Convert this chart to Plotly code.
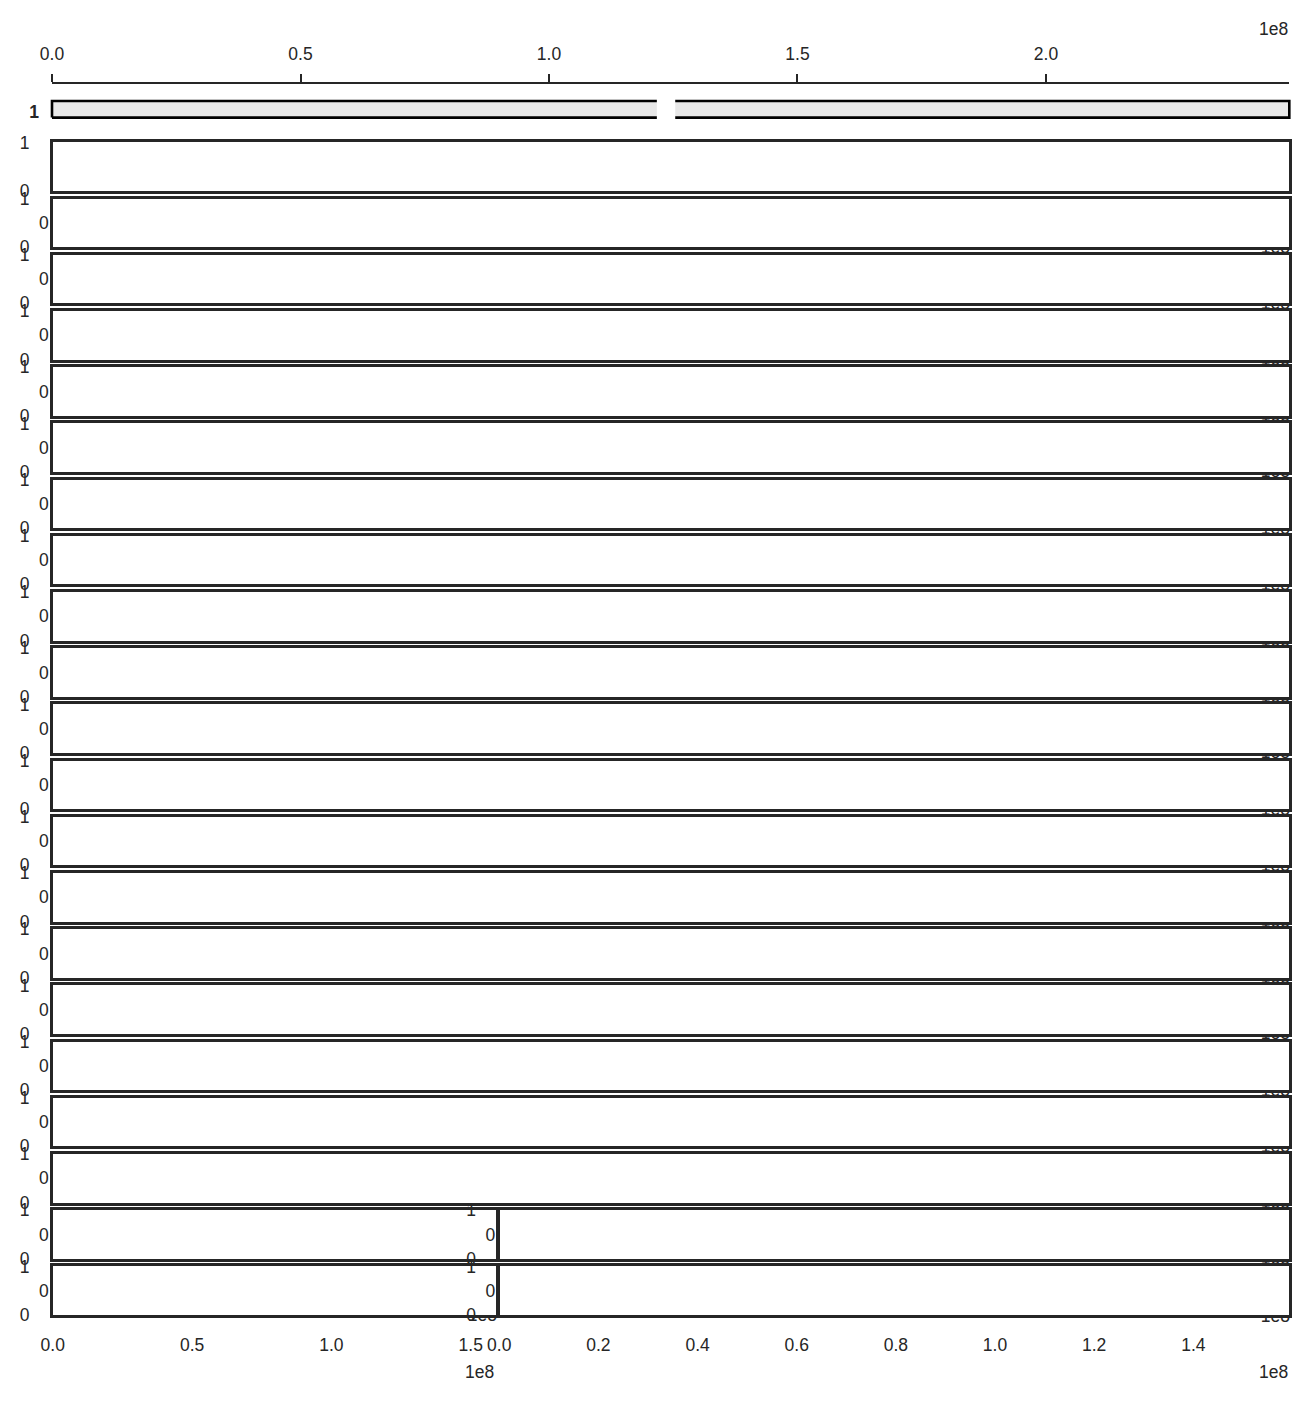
import plotly.graph_objects as go

W, H = 1311, 1401
FONT = "Liberation Sans, Arial, Helvetica, sans-serif"
INK = "#262626"
FS = 17.5

# ---------------- data ----------------
chrom_names = ["1"]
chrom_lengths = [248956422]
centromere_starts = [121700000]
centromere_ends = [125400000]
track_count = 21
split_rows = [19, 20]                       # rows holding two chromosome panels
split_chrom_lengths = [159345973, 159345973]
track_tick_vals = [0, 1]
track_tick_text = ["0", "1"]
mid_tick_vals = [0]
mid_tick_text = ["0"]
top_tick_vals = [0.0e8, 0.5e8, 1.0e8, 1.5e8, 2.0e8]
top_tick_text = ["0.0", "0.5", "1.0", "1.5", "2.0"]
bl_tick_vals = [0.0e8, 0.5e8, 1.0e8, 1.5e8]
bl_tick_text = ["0.0", "0.5", "1.0", "1.5"]
br_tick_vals = [0.0e8, 0.2e8, 0.4e8, 0.6e8, 0.8e8, 1.0e8, 1.2e8, 1.4e8]
br_tick_text = ["0.0", "0.2", "0.4", "0.6", "0.8", "1.0", "1.2", "1.4"]
offset_text = "1e8"

# ---------------- geometry (pixels) ----------------
LEFT, RIGHT, SPLIT = 51.5, 1290.5, 498.0
ROW_TOP0, ROW_PITCH, ROW_H = 141.2, 56.2, 51.0
LW = 2.5
IDEO_X0, IDEO_X1 = 52.0, 1289.3
IDEO_CY, IDEO_HALF = 109.3, 8.3
BAND = 0.5

layout = dict(
    width=W, height=H,
    margin=dict(l=0, r=0, t=0, b=0, pad=0, autoexpand=False),
    paper_bgcolor="white", plot_bgcolor="rgba(0,0,0,0)",
    showlegend=False, hovermode=False,
    font=dict(family=FONT, size=FS, color=INK),
)
traces = []
counters = {"x": 0, "y": 0}


def key_of(ref):
    return ref[0] + "axis" + ref[1:]


def add_axis(kind, **kw):
    counters[kind] += 1
    n = counters[kind]
    ref = kind + ("" if n == 1 else str(n))
    base = dict(showgrid=False, zeroline=False, fixedrange=True, automargin=False)
    base.update(kw)
    layout[key_of(ref)] = base
    return ref


def xdom(a, b):
    return [a / W, b / W]


def ydom(top, bottom):
    return [1 - bottom / H, 1 - top / H]


def add_pair(xd, yd, xkw, ykw):
    xr = add_axis("x", domain=xd, **xkw)
    yr = add_axis("y", domain=yd, **ykw)
    layout[key_of(xr)]["anchor"] = yr
    layout[key_of(yr)]["anchor"] = xr
    return xr, yr


def empty(xr, yr):
    traces.append(go.Scatter(x=[], y=[], xaxis=xr, yaxis=yr, mode="markers",
                             hoverinfo="skip", showlegend=False))


L = chrom_lengths[0]

# ---- top position axis ----
xr, yr = add_pair(
    xdom(IDEO_X0, IDEO_X1), ydom(83.8, 96),
    dict(range=[0, L], side="top", showline=True, linecolor=INK, linewidth=1.6,
         ticks="outside", ticklen=8, tickwidth=1.6, tickcolor=INK,
         tickvals=top_tick_vals, ticktext=top_tick_text, ticklabelstandoff=7,
         tickfont=dict(size=FS, color=INK)),
    dict(range=[0, 1], visible=False),
)
empty(xr, yr)

# ---- ideogram ----
per_px = L / (IDEO_X1 - IDEO_X0)
ix_a, ix_b = 40.0, 1302.0
iy_top, iy_bot = 96.0, 125.0
unit_px = IDEO_HALF / BAND
xr, yr = add_pair(
    xdom(ix_a, ix_b), ydom(iy_top, iy_bot),
    dict(range=[(ix_a - IDEO_X0) * per_px, L + (ix_b - IDEO_X1) * per_px],
         visible=False),
    dict(range=[-(iy_bot - IDEO_CY) / unit_px, (IDEO_CY - iy_top) / unit_px],
         tickvals=[0], ticktext=["<b>%s</b>" % chrom_names[0]], ticks="",
         showline=False, ticklabelstandoff=0, ticklabelshift=3,
         tickfont=dict(size=FS, color=INK)),
)
for name, length, cs, ce in zip(chrom_names, chrom_lengths, centromere_starts, centromere_ends):
    traces.append(go.Scatter(
        x=[0, length, length, 0, 0], y=[-BAND, -BAND, BAND, BAND, -BAND],
        xaxis=xr, yaxis=yr, mode="lines", fill="toself", fillcolor="#e8e8e8",
        line=dict(color="black", width=2.6), hoverinfo="skip", showlegend=False))
    traces.append(go.Scatter(
        x=[cs, ce, ce, cs, cs], y=[-1.5 * BAND, -1.5 * BAND, 1.5 * BAND, 1.5 * BAND, -1.5 * BAND],
        xaxis=xr, yaxis=yr, mode="lines", fill="toself", fillcolor="white",
        line=dict(color="white", width=0), hoverinfo="skip", showlegend=False))

# ---- track panels ----
frag_specs = []   # (x_left, x_right, win_top, win_bottom, text_right, text_baseline)
for r in range(track_count):
    top = ROW_TOP0 + r * ROW_PITCH
    bot = top + ROW_H
    yd = ydom(top + LW / 2, bot - LW / 2)
    if r in split_rows:
        segs = [(LEFT, SPLIT, split_chrom_lengths[0], bl_tick_vals, bl_tick_text),
                (SPLIT, RIGHT, split_chrom_lengths[1], br_tick_vals, br_tick_text)]
    else:
        segs = [(LEFT, RIGHT, L, [], [])]
    is_bottom = r == track_count - 1
    for a, b, length, tv, tt in segs:
        xkw = dict(range=[0, length], showline=True, mirror=True, linecolor=INK,
                   linewidth=LW, ticks="", showticklabels=is_bottom)
        if is_bottom:
            xkw.update(tickvals=tv, ticktext=tt, ticklabelstandoff=12,
                       tickfont=dict(size=FS, color=INK))
        ykw = dict(range=[0, 1], showline=True, mirror=True, linecolor=INK,
                   linewidth=LW, ticks="", tickvals=track_tick_vals,
                   ticktext=track_tick_text, ticklabelstandoff=17,
                   tickfont=dict(size=FS, color=INK))
        xr, yr = add_pair(xdom(a + LW / 2, b - LW / 2), yd, xkw, ykw)
        empty(xr, yr)
        if r > 0:
            yr2 = add_axis("y", overlaying=yr, anchor=xr, side="left",
                           range=[-1, 1], tickvals=mid_tick_vals,
                           ticktext=mid_tick_text, showline=False, ticks="",
                           ticklabelstandoff=3, tickfont=dict(size=FS, color=INK))
            empty(xr, yr2)
    if r > 0:
        if r < track_count - 1:
            nxt = bot + (ROW_PITCH - ROW_H)
            frag_specs.append((1240.0, 1292.0, bot + LW / 2, nxt - LW / 2, 1290.0, nxt - 1.0))
        else:
            frag_specs.append((1240.0, 1292.0, bot + LW / 2, bot + 7.0, 1290.0, bot + 5.5))
last_bot = ROW_TOP0 + (track_count - 1) * ROW_PITCH + ROW_H
frag_specs.append((440.0, 497.0, last_bot + LW / 2, last_bot + 7.0, 497.0, last_bot + 4.5))

# ---- partially hidden offset labels (only their lower edge peeks out) ----
for xa, xb, wt, wb, xright, gbase in frag_specs:
    xr, yr = add_pair(xdom(xa, xb), ydom(wt, wb),
                      dict(range=[0, 1], visible=False),
                      dict(range=[0, 1], visible=False))
    ppt = gbase - 0.75 * FS
    traces.append(go.Scatter(
        x=[(xright - xa) / (xb - xa)], y=[(wb - ppt) / (wb - wt)],
        xaxis=xr, yaxis=yr, mode="text", text=[offset_text],
        textposition="bottom left", cliponaxis=True,
        textfont=dict(family=FONT, size=FS, color=INK),
        hoverinfo="skip", showlegend=False))

# ---- offset annotations ----
layout["annotations"] = [
    dict(x=1290 / W, y=1 - 28.5 / H, xref="paper", yref="paper", text=offset_text,
         showarrow=False, xanchor="right", yanchor="middle",
         font=dict(family=FONT, size=FS, color=INK)),
    dict(x=496 / W, y=1 - 1371.5 / H, xref="paper", yref="paper", text=offset_text,
         showarrow=False, xanchor="right", yanchor="middle",
         font=dict(family=FONT, size=FS, color=INK)),
    dict(x=1290 / W, y=1 - 1371.5 / H, xref="paper", yref="paper", text=offset_text,
         showarrow=False, xanchor="right", yanchor="middle",
         font=dict(family=FONT, size=FS, color=INK)),
]

fig = go.Figure(data=traces, layout=layout)
fig.write_html("out.html")
